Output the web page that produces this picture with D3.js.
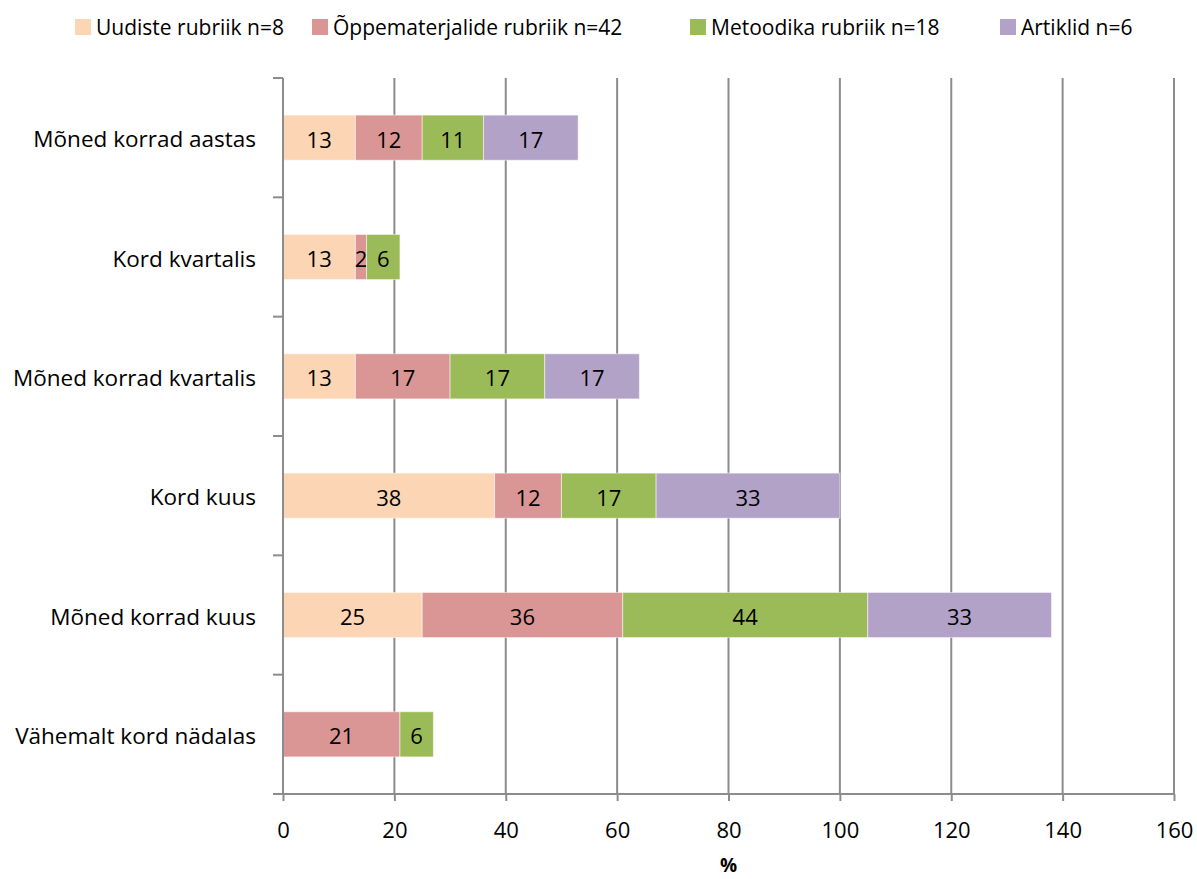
<!DOCTYPE html>
<html><head><meta charset="utf-8">
<script src="https://cdn.jsdelivr.net/npm/d3@7"></script>
<style>body{margin:0;background:#fff}svg text{font-family:"Open Sans",Lato,sans-serif;fill:#000}</style>
</head><body><svg id="c" width="1197" height="879"></svg>
<script>
const categories = ["Mõned korrad aastas","Kord kvartalis","Mõned korrad kvartalis","Kord kuus","Mõned korrad kuus","Vähemalt kord nädalas"];
const seriesNames = ["Uudiste rubriik n=8","Õppematerjalide rubriik n=42","Metoodika rubriik n=18","Artiklid n=6"];
const uudiste = [13,13,13,38,25,0];
const oppematerjalid = [12,2,17,12,36,21];
const metoodika = [11,6,17,17,44,6];
const artiklid = [17,0,17,33,33,0];
const colors = ["#FCD5B5","#D99694","#9BBB59","#B3A2C7"];
const xTicks = [0,20,40,60,80,100,120,140,160];

const FONT = "'Open Sans',Lato,sans-serif";
const svg = d3.select("#c");
const L=283, R=1174, T=78, B=794;
const x = d3.scaleLinear().domain([0,160]).range([L,R]);
const y = d3.scaleBand().domain(categories).range([T,B]).paddingInner(0.622).paddingOuter(0.311);
const yb = d3.scaleBand().domain(categories).range([T,B]);

svg.append("g").selectAll("line").data(xTicks.slice(1)).join("line")
 .attr("x1",d=>x(d)).attr("x2",d=>x(d)).attr("y1",T).attr("y2",B)
 .attr("stroke","#8c8c8c").attr("stroke-width",2);

const table = categories.map((c,i)=>({cat:c, vals:[uudiste[i],oppematerjalid[i],metoodika[i],artiklid[i]]}));
const stack = d3.stack().keys([0,1,2,3]).value((d,k)=>d.vals[k])(table);

const g = svg.append("g");
stack.forEach((s,k)=>{
  const segs = s.filter(d=>d[1]-d[0]>0);
  g.selectAll(null).data(segs).join("rect")
   .attr("x",d=>x(d[0])).attr("width",d=>x(d[1])-x(d[0]))
   .attr("y",d=>y(d.data.cat)).attr("height",y.bandwidth())
   .attr("fill",colors[k]).attr("stroke","rgba(255,255,255,0.5)").attr("stroke-width",1);
  g.selectAll(null).data(segs).join("text")
   .attr("x",d=>(x(d[0])+x(d[1]))/2).attr("y",d=>y(d.data.cat)+y.bandwidth()/2+1)
   .attr("text-anchor","middle").attr("dominant-baseline","central")
   .style("font-size","22px").text(d=>d[1]-d[0]);
});

const ax = svg.append("g").attr("transform",`translate(0,${B})`)
 .call(d3.axisBottom(x).tickValues(xTicks).tickSize(7).tickSizeOuter(0).tickPadding(21));
ax.select(".domain").attr("stroke","#8c8c8c").attr("stroke-width",2).attr("d",`M${L-10},0H${R}`);
ax.selectAll(".tick line").attr("stroke","#8c8c8c").attr("stroke-width",2);
ax.selectAll(".tick text").style("font-size","22px").style("font-family",FONT).attr("fill","#000");

svg.append("line").attr("x1",L).attr("x2",L).attr("y1",T).attr("y2",B).attr("stroke","#8c8c8c").attr("stroke-width",2);
const yBounds = categories.map(c=>yb(c)).concat([B]);
svg.append("g").selectAll("line").data(yBounds).join("line")
 .attr("x1",L-10).attr("x2",L).attr("y1",d=>d).attr("y2",d=>d).attr("stroke","#8c8c8c").attr("stroke-width",2);
svg.append("g").selectAll("text").data(categories).join("text")
 .attr("x",256).attr("y",d=>yb(d)+yb.bandwidth()/2+1).attr("text-anchor","end").attr("dominant-baseline","central")
 .style("font-size","22.5px").text(d=>d);

svg.append("text").attr("x",(L+R)/2).attr("y",872).attr("text-anchor","middle")
 .style("font-size","19px").style("font-weight","bold").text("%");

const legX = [75,312,690,1000];
const lg = svg.append("g");
seriesNames.forEach((n,i)=>{
  lg.append("rect").attr("x",legX[i]).attr("y",19).attr("width",16).attr("height",16).attr("fill",colors[i]);
  lg.append("text").attr("x",legX[i]+21).attr("y",27).attr("dominant-baseline","central").style("font-size","21px").text(n);
});
</script></body></html>
